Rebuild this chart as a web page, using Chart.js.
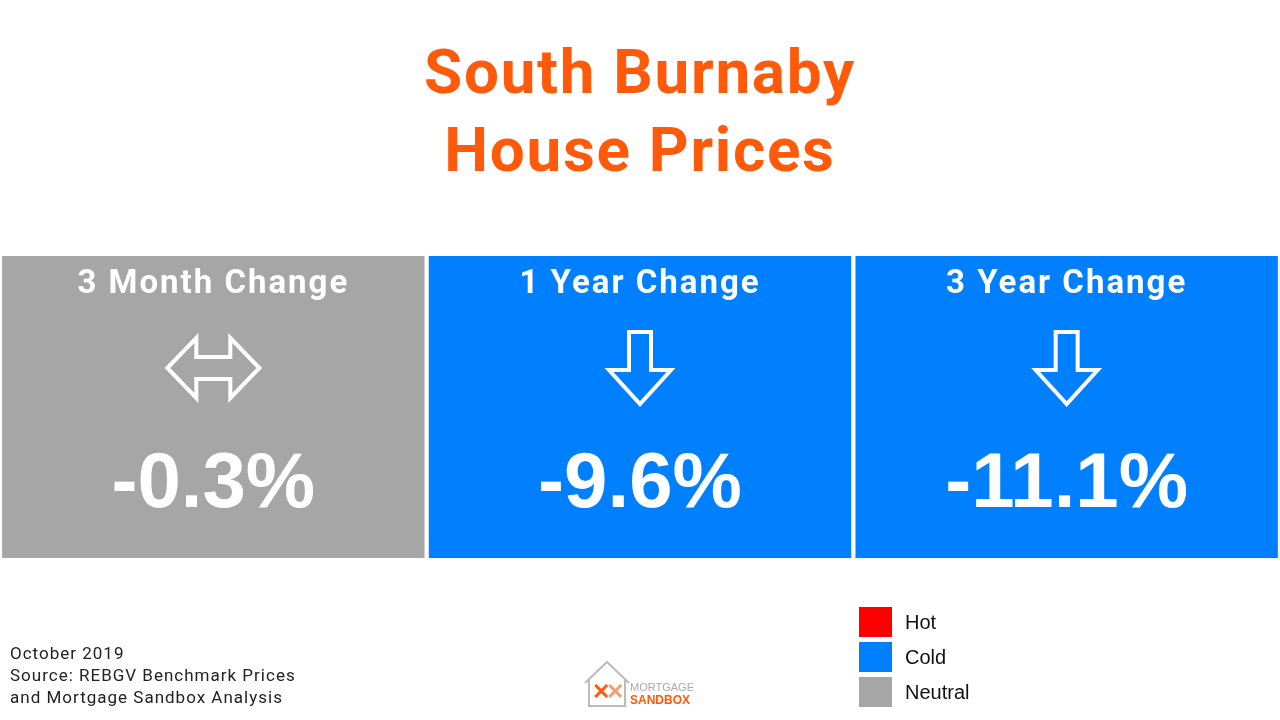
<!DOCTYPE html>
<html>
<head>
<meta charset="utf-8">
<script src="https://cdn.jsdelivr.net/npm/chart.js@4"></script>
<style>
  html, body { margin: 0; padding: 0; background: #fff; }
  #wrap { width: 1280px; height: 720px; }
</style>
</head>
<body>
<div id="wrap"><canvas id="c" width="1280" height="720"></canvas></div>
<script>
// data
const periods = ['3 Month Change', '1 Year Change', '3 Year Change'];
const changes = [-0.3, -9.6, -11.1];
const trends = ['neutral', 'down', 'down'];
const states = ['Neutral', 'Cold', 'Cold'];
const legendLabels = ['Hot', 'Cold', 'Neutral'];
const stateColors = { Hot: '#ff0000', Cold: '#0080ff', Neutral: '#a6a6a6' };

const ORANGE = '#ff5a0a';

function drawArrow(ctx, kind, cx, cy) {
  ctx.save();
  ctx.strokeStyle = '#fff';
  ctx.lineWidth = 4;
  ctx.lineJoin = 'miter';
  ctx.beginPath();
  if (kind === 'down') {
    ctx.moveTo(cx - 11, cy - 36);
    ctx.lineTo(cx + 11, cy - 36);
    ctx.lineTo(cx + 11, cy + 2);
    ctx.lineTo(cx + 31, cy + 2);
    ctx.lineTo(cx, cy + 36);
    ctx.lineTo(cx - 31, cy + 2);
    ctx.lineTo(cx - 11, cy + 2);
  } else {
    ctx.moveTo(cx - 46, cy);
    ctx.lineTo(cx - 17, cy - 30);
    ctx.lineTo(cx - 17, cy - 11);
    ctx.lineTo(cx + 17, cy - 11);
    ctx.lineTo(cx + 17, cy - 30);
    ctx.lineTo(cx + 46, cy);
    ctx.lineTo(cx + 17, cy + 30);
    ctx.lineTo(cx + 17, cy + 11);
    ctx.lineTo(cx - 17, cy + 11);
    ctx.lineTo(cx - 17, cy + 30);
  }
  ctx.closePath();
  ctx.stroke();
  ctx.restore();
}

const decor = {
  id: 'decor',
  afterDatasetsDraw(chart) {
    const ctx = chart.ctx;
    const meta = chart.getDatasetMeta(0);
    ctx.save();
    ctx.textAlign = 'center';
    ctx.textBaseline = 'middle';
    // title
    ctx.fillStyle = ORANGE;
    ctx.letterSpacing = '1.7px';
    ctx.font = 'bold 62px Roboto, sans-serif';
    ctx.fillText('South Burnaby', 640, 77);
    ctx.fillText('House Prices', 640, 155);

    // tile contents
    meta.data.forEach((bar, i) => {
      const cx = bar.x;
      ctx.fillStyle = '#fff';
      ctx.letterSpacing = '2px';
      ctx.font = 'bold 33px Roboto, sans-serif';
      ctx.fillText(periods[i], cx, 285);
      ctx.letterSpacing = '0px';
      drawArrow(ctx, trends[i], cx, 368);
      ctx.font = 'bold 78px "Liberation Sans", Arial, sans-serif';
      ctx.fillText(changes[i].toFixed(1) + '%', cx, 485);
    });

    // legend
    ctx.textAlign = 'left';
    legendLabels.forEach((l, i) => {
      const y = 607 + i * 35;
      ctx.fillStyle = stateColors[l];
      ctx.fillRect(859, y, 33, 30);
      ctx.fillStyle = '#111';
      ctx.font = '20px "Liberation Sans", Arial, sans-serif';
      ctx.fillText(l, 905, y + 16);
    });

    // footer
    ctx.fillStyle = '#222';
    ctx.letterSpacing = '1px';
    ctx.font = '17px Roboto, sans-serif';
    ctx.fillText('October 2019', 10, 655);
    ctx.fillText('Source: REBGV Benchmark Prices', 10, 677);
    ctx.fillText('and Mortgage Sandbox Analysis', 10, 699);
    ctx.letterSpacing = '0px';

    // logo
    ctx.strokeStyle = '#bbb';
    ctx.lineWidth = 2;
    ctx.beginPath();
    ctx.moveTo(585, 683);
    ctx.lineTo(607, 662);
    ctx.lineTo(629, 683);
    ctx.moveTo(589, 679);
    ctx.lineTo(589, 706);
    ctx.lineTo(625, 706);
    ctx.lineTo(625, 679);
    ctx.stroke();
    ctx.font = 'bold 22px "Liberation Sans", Arial, sans-serif';
    ctx.fillStyle = ORANGE;
    ctx.fillText('✕', 592, 693);
    ctx.fillStyle = '#f0a070';
    ctx.fillText('✕', 606, 693);
    ctx.font = '11px "Liberation Sans", Arial, sans-serif';
    ctx.fillStyle = '#aaa';
    ctx.fillText('MORTGAGE', 630, 688);
    ctx.font = 'bold 12px "Liberation Sans", Arial, sans-serif';
    ctx.fillStyle = ORANGE;
    ctx.fillText('SANDBOX', 630, 701);
    ctx.restore();
  }
};

new Chart(document.getElementById('c'), {
  type: 'bar',
  data: {
    labels: periods,
    datasets: [{
      data: periods.map(() => [0, 1]),
      backgroundColor: states.map(s => stateColors[s]),
      borderWidth: 0,
      barPercentage: 1,
      categoryPercentage: 0.99
    }]
  },
  options: {
    responsive: false,
    animation: false,
    layout: { padding: { top: 256, bottom: 162, left: 0, right: 0 } },
    scales: {
      x: { display: false },
      y: { display: false, min: 0, max: 1 }
    },
    plugins: { legend: { display: false }, tooltip: { enabled: false } }
  },
  plugins: [decor]
});
</script>
</body>
</html>
